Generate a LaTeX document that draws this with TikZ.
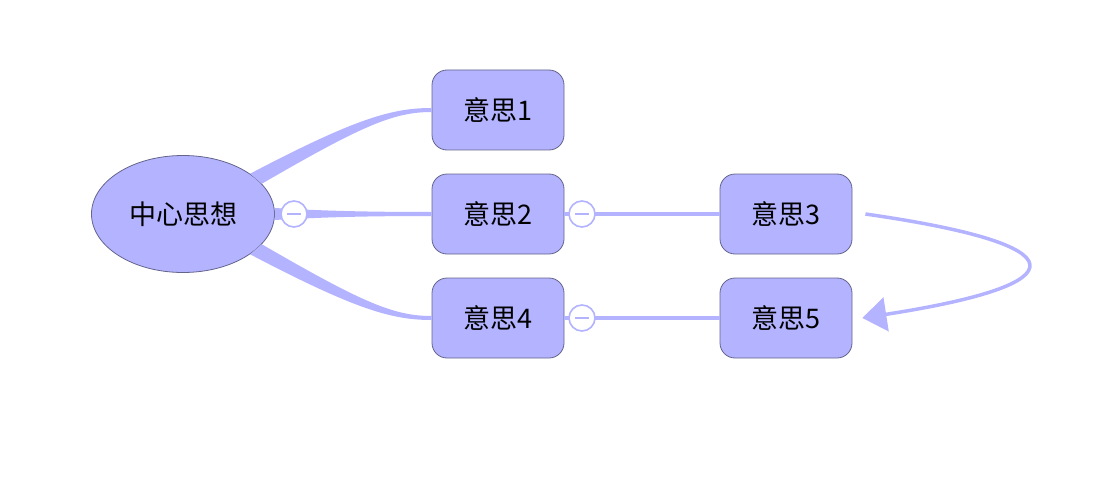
\documentclass[tikz,border=0pt]{standalone}
\usepackage{fontspec}
\setmainfont{Noto Sans CJK SC}
\usetikzlibrary{shapes.geometric,arrows.meta,calc}

\definecolor{idea}{RGB}{179,179,255}
\definecolor{rim}{RGB}{100,100,140}

\begin{document}
\begin{tikzpicture}[x=1pt,y=-1pt,
  box/.style={draw=rim,fill=idea,line width=0.8pt,rounded corners=15pt,
    minimum width=132pt,minimum height=80pt,font=\fontsize{27}{32}\selectfont},
  fold/.style={circle,draw=idea,fill=white,line width=1.6pt,minimum size=26pt,inner sep=0pt,
    path picture={\draw[idea,line width=1.3pt] ([xshift=6pt]path picture bounding box.west)
      -- ([xshift=-6pt]path picture bounding box.east);}},
  link/.style={draw=idea,line width=3.5pt},
  branch/.style={fill=idea}]
\useasboundingbox (0,0) rectangle (1108,484);

% nodes
\node[ellipse,draw=rim,fill=idea,line width=0.8pt,minimum width=183pt,minimum height=117pt,
  inner sep=0pt,font=\fontsize{27}{32}\selectfont] (ctr) at (183,214) {中心思想};
\node[box] (yisi1) at (498,110) {意思1};
\node[box] (yisi2) at (498,214) {意思2};
\node[box] (yisi4) at (498,318) {意思4};
\node[box] (yisi3) at (786,214) {意思3};
\node[box] (yisi5) at (786,318) {意思5};

% tapered branches
\fill[branch] (ctr.31) .. controls +(105,-55) and +(-40,0) .. ($(yisi1.west)+(0,-2)$)
  -- ($(yisi1.west)+(0,2)$) .. controls +(-38,0) and +(100,-58) .. (ctr.21) -- cycle;
\fill[branch] (ctr.-31) .. controls +(105,55) and +(-40,0) .. ($(yisi4.west)+(0,2)$)
  -- ($(yisi4.west)+(0,-2)$) .. controls +(-38,0) and +(100,58) .. (ctr.-21) -- cycle;
\fill[branch] ($(ctr.east)+(0,-6)$) .. controls +(50,3) and +(-60,0) .. ($(yisi2.west)+(0,-2)$)
  -- ($(yisi2.west)+(0,2)$) .. controls +(-60,0) and +(50,-3) .. ($(ctr.east)+(0,6)$) -- cycle;

% thin links
\draw[link] (yisi2.east) -- (yisi3.west);
\draw[link] (yisi4.east) -- (yisi5.west);

% fold markers
\node[fold] (fold1) at (294,214) {};
\node[fold] (fold2) at (582,214) {};
\node[fold] (fold3) at (582,318) {};

% relation arrow
\draw[link,-{Triangle[length=24pt,width=34pt]}] ($(yisi3.east)+(13,0)$)
  .. controls +(216,31) and +(219,-34) .. ($(yisi5.east)+(10,0)$);
\end{tikzpicture}
\end{document}
